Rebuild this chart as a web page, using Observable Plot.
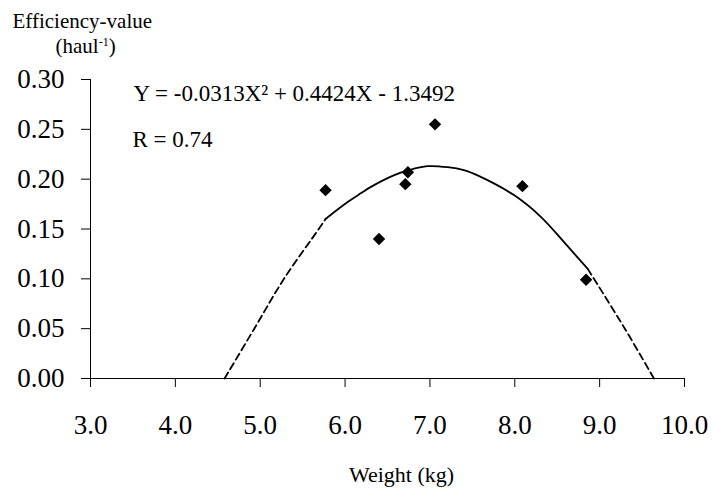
<!DOCTYPE html>
<html>
<head>
<meta charset="utf-8">
<script src="https://cdn.jsdelivr.net/npm/d3@7"></script>
<script src="https://cdn.jsdelivr.net/npm/@observablehq/plot@0.6"></script>
<style>
  html, body { margin: 0; padding: 0; background: #fff; }
  #chart svg, #chart svg text { font-family: "Liberation Serif", "Times New Roman", serif !important; }
</style>
</head>
<body>
<div id="chart"></div>
<script>
// Observed points
const weight = [5.77, 6.40, 6.71, 6.74, 7.06, 8.09, 8.84];
const efficiency = [0.189, 0.140, 0.195, 0.207, 0.255, 0.193, 0.099];

// Fitted curve
const fitSolidX = [5.77, 6.03, 6.19, 6.30, 6.58, 6.75, 6.97, 7.21, 7.40, 7.58, 7.99, 8.31, 8.62, 8.86];
const fitSolidY = [0.160, 0.177, 0.186, 0.192, 0.204, 0.209, 0.213, 0.212, 0.209, 0.203, 0.184, 0.162, 0.133, 0.110];
const fitDashLeftX = [4.58, 4.93, 5.28, 5.69, 5.77];
const fitDashLeftY = [0.000, 0.050, 0.100, 0.150, 0.160];
const fitDashRightX = [8.86, 9.29, 9.64];
const fitDashRightY = [0.110, 0.051, 0.000];

// Ticks
const xTicks = [3, 4, 5, 6, 7, 8, 9, 10];
const yTicks = [0, 0.05, 0.10, 0.15, 0.20, 0.25, 0.30];

// Texts
const yTitle = "Efficiency-value";
const yUnit = "(haul-1)";
const xTitle = "Weight (kg)";
const equation = "Y = -0.0313X\u00B2 + 0.4424X - 1.3492";
const rText = "R = 0.74";

const pts = weight.map((w, i) => ({x: w, y: efficiency[i]}));
const solid = fitSolidX.map((x, i) => ({x, y: fitSolidY[i]}));
const dashL = fitDashLeftX.map((x, i) => ({x, y: fitDashLeftY[i]}));
const dashR = fitDashRightX.map((x, i) => ({x, y: fitDashRightY[i]}));

const chart = Plot.plot({
  width: 712,
  height: 489,
  marginLeft: 90,
  marginRight: 28,
  marginTop: 79,
  marginBottom: 111,
  x: {domain: [3, 10]},
  y: {domain: [0, 0.30]},
  style: {fontFamily: "Liberation Serif, serif", fontSize: "27px", color: "#000", background: "#fff"},
  marks: [
    Plot.axisY({ticks: yTicks, tickSize: 9, tickPadding: 17, tickFormat: d => d.toFixed(2), label: null, fontSize: 27}),
    Plot.axisX({ticks: xTicks, tickSize: 9, tickPadding: 27, tickFormat: d => d.toFixed(1), label: null, fontSize: 27}),
    Plot.ruleX([3], {stroke: "#000"}),
    Plot.ruleY([0], {stroke: "#000"}),
    Plot.line(dashL, {x: "x", y: "y", stroke: "#000", strokeWidth: 1.8, strokeDasharray: "7,4", curve: "catmull-rom"}),
    Plot.line(dashR, {x: "x", y: "y", stroke: "#000", strokeWidth: 1.8, strokeDasharray: "7,4", curve: "catmull-rom"}),
    Plot.line(solid, {x: "x", y: "y", stroke: "#000", strokeWidth: 1.8, curve: "catmull-rom"}),
    Plot.dot(pts, {x: "x", y: "y", symbol: "diamond2", r: 5.6, fill: "#000", stroke: "none"}),
    Plot.text([yTitle], {frameAnchor: "top-left", textAnchor: "start", lineAnchor: "middle", dx: -78, dy: -58, fontSize: 21, fill: "#000"}),
    Plot.text([yUnit], {frameAnchor: "top-left", textAnchor: "start", lineAnchor: "middle", dx: -35, dy: -33, fontSize: 21, fill: "#000"}),
    Plot.text([equation], {frameAnchor: "top-left", textAnchor: "start", lineAnchor: "middle", dx: 43, dy: 14, fontSize: 23, fill: "#000"}),
    Plot.text([rText], {frameAnchor: "top-left", textAnchor: "start", lineAnchor: "middle", dx: 42, dy: 60, fontSize: 23, fill: "#000"}),
    Plot.text([xTitle], {frameAnchor: "bottom", textAnchor: "middle", lineAnchor: "middle", dx: 14, dy: 96, fontSize: 22, fill: "#000"})
  ]
});

// Render the "-1" of haul-1 as a superscript
d3.select(chart).selectAll("text").each(function() {
  if (this.textContent === yUnit) {
    const t = d3.select(this);
    t.text(null);
    t.append("tspan").text("(haul");
    t.append("tspan").attr("dy", -7).attr("font-size", 12).text("-1");
    t.append("tspan").attr("dy", 7).text(")");
  }
});

document.getElementById("chart").appendChild(chart);
</script>
</body>
</html>
